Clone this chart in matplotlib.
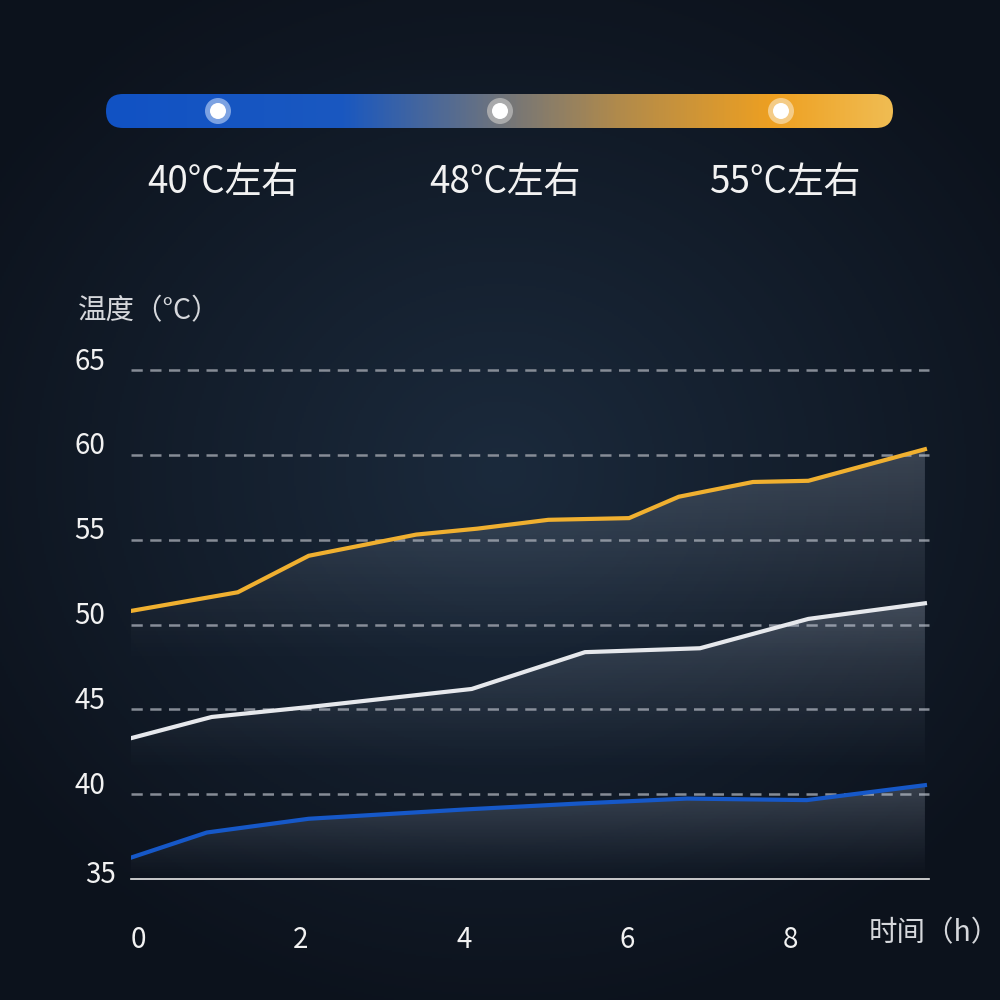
import numpy as np
import matplotlib
matplotlib.use("Agg")
import matplotlib.pyplot as plt
from matplotlib.patches import Polygon, FancyBboxPatch, Circle
from matplotlib.colors import LinearSegmentedColormap, to_rgb
from matplotlib.transforms import ScaledTranslation

plt.rcParams['font.family'] = ['Noto Sans CJK SC', 'DejaVu Sans']

# data
hours_55 = [0, 1.31, 2.18, 3.50, 4.25, 5.12, 6.11, 6.72, 7.63, 8.31, 9.74]
temp_55 = [50.8, 51.9, 54.05, 55.3, 55.65, 56.17, 56.27, 57.53, 58.4, 58.47, 60.33]
hours_48 = [0, 0.99, 2.21, 4.18, 5.57, 6.98, 8.31, 9.74]
temp_48 = [43.3, 44.55, 45.15, 46.2, 48.37, 48.6, 50.33, 51.25]
hours_40 = [0, 0.93, 2.18, 4.1, 5.5, 6.82, 8.29, 9.74]
temp_40 = [36.26, 37.74, 38.55, 39.1, 39.45, 39.74, 39.65, 40.53]

legend_labels = ['40°C左右', '48°C左右', '55°C左右']
y_ticks = [35, 40, 45, 50, 55, 60, 65]
x_ticks = [0, 2, 4, 6, 8]

fig = plt.figure(figsize=(10, 10), dpi=100)

# background in pixel coordinates
bg = fig.add_axes([0, 0, 1, 1])
bg.set_xlim(0, 1000)
bg.set_ylim(1000, 0)
bg.axis('off')
yy, xx = np.mgrid[0:1000:2, 0:1000:2]
r = np.sqrt(((xx - 500) / 620.0) ** 2 + ((yy - 470) / 560.0) ** 2)
r = np.clip(r, 0, 1)
c_in = np.array([27, 42, 60]) / 255
c_out = np.array([12, 18, 28]) / 255
img = c_in[None, None, :] * (1 - r[..., None]) + c_out[None, None, :] * r[..., None]
top = yy < 70
img[top] = img[top] * 0.8 + np.array([14, 20, 30]) / 255 * 0.2
bg.imshow(img, extent=[0, 1000, 1000, 0], aspect='auto', zorder=0)

# gradient legend bar
bar_cmap = LinearSegmentedColormap.from_list('bar', [
    (0.0, '#1152c4'), (0.3, '#1a58c0'), (0.5, '#6f747c'),
    (0.65, '#b08a4c'), (0.85, '#eea021'), (1.0, '#f0bc52')])
grad = np.linspace(0, 1, 400)[None, :]
bar_img = bg.imshow(grad, cmap=bar_cmap, extent=[106, 893, 128, 94], aspect='auto', zorder=1)
bar_shape = FancyBboxPatch((106, 94), 787, 34, boxstyle='round,pad=0,rounding_size=17',
                           transform=bg.transData, facecolor='none', edgecolor='none')
bg.add_patch(bar_shape)
bar_img.set_clip_path(bar_shape)

dot_x = [218, 500, 781]
ring_cols = ['#8fb0e8', '#b4b4b4', '#f6d49a']
for dx, rc, lab in zip(dot_x, ring_cols, legend_labels):
    bg.add_patch(Circle((dx, 111), 13, facecolor=rc, edgecolor='none', alpha=0.85, zorder=2))
    bg.add_patch(Circle((dx, 111), 8, facecolor='white', edgecolor='none', zorder=3))
    bg.text(dx + 5, 183, lab, color='#f2f2f2', fontsize=26.5, ha='center', va='center', zorder=3)

# main chart
ax = fig.add_axes([0.131, 0.121, 0.798, 0.509])
ax.patch.set_alpha(0)
for s in ['top', 'right', 'left']:
    ax.spines[s].set_visible(False)
ax.spines['bottom'].set_color('#e8e8e8')
ax.spines['bottom'].set_linewidth(1.2)

for t in y_ticks[1:]:
    ax.axhline(t, color='#868c96', lw=1.8, ls=(0, (4.5, 3)), zorder=1, clip_on=False)

series = [
    (hours_55, temp_55, '#f0b030', 47.5),
    (hours_48, temp_48, '#e6e8ec', 41.2),
    (hours_40, temp_40, '#1658c8', 35.0),
]
fill_rgb = to_rgb('#b8c4d6')
for hx, ty, col, base in series:
    verts = list(zip(hx, ty)) + [(hx[-1], base), (hx[0], base)]
    poly = Polygon(verts, closed=True, facecolor='none', edgecolor='none')
    ax.add_patch(poly)
    g = np.zeros((256, 1, 4))
    g[..., 0], g[..., 1], g[..., 2] = fill_rgb
    g[:, 0, 3] = np.linspace(0.0, 0.3, 256) ** 1.15
    gi = ax.imshow(g, extent=[hx[0], hx[-1], base, max(ty)], origin='lower',
                   aspect='auto', zorder=2)
    gi.set_clip_path(poly)
    ax.plot(hx, ty, color=col, lw=3.0, zorder=4, solid_joinstyle='miter')

ax.set_xlim(0, 9.79)
ax.set_ylim(35, 65)

ax.set_yticks(y_ticks)
ax.set_yticklabels([str(t) for t in y_ticks])
ax.tick_params(axis='y', length=0, pad=41, labelsize=20, labelcolor='#f2f2f2')
for lbl in ax.get_yticklabels():
    lbl.set_horizontalalignment('left')
    if lbl.get_text() == '35':
        off = ScaledTranslation(11 / 100, 8 / 100, fig.dpi_scale_trans)
    else:
        off = ScaledTranslation(0, 12 / 100, fig.dpi_scale_trans)
    lbl.set_transform(lbl.get_transform() + off)

ax.set_xticks(x_ticks)
ax.set_xticklabels([str(t) for t in x_ticks])
ax.tick_params(axis='x', length=0, pad=33, labelsize=20, labelcolor='#f2f2f2')
for lbl in ax.get_xticklabels():
    lbl.set_transform(lbl.get_transform() + ScaledTranslation(7 / 100, 0, fig.dpi_scale_trans))

bg.text(78, 311, '温度（°C）', color='#d6d8dc', fontsize=20.5, ha='left', va='center')
bg.text(869, 933, '时间（h）', color='#d6d8dc', fontsize=20.5, ha='left', va='center')

fig.savefig('out.png', dpi=100)
